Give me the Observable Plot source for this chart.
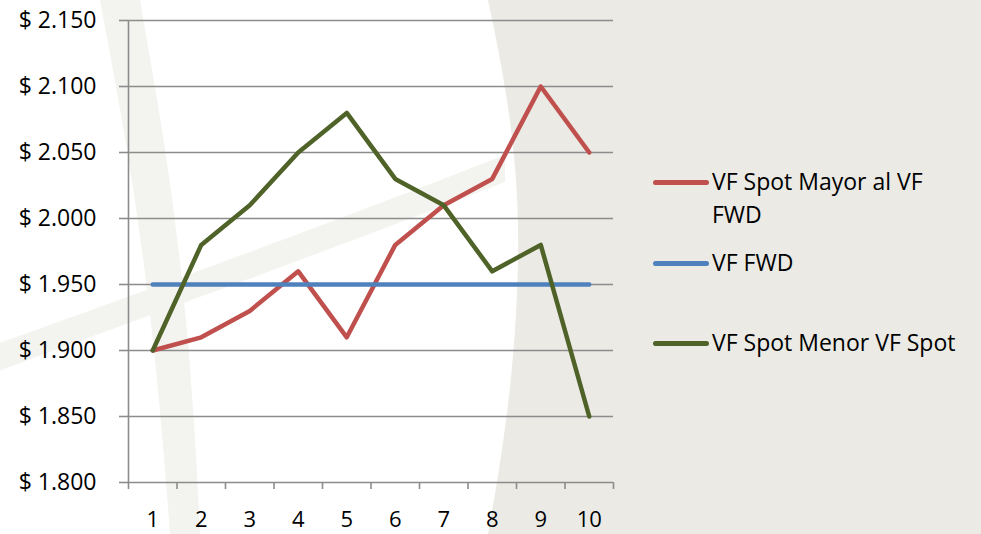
<!DOCTYPE html>
<html>
<head>
<meta charset="utf-8">
<script src="https://cdn.jsdelivr.net/npm/d3@7"></script>
<script src="https://cdn.jsdelivr.net/npm/@observablehq/plot@0.6"></script>
<style>
  html, body { margin: 0; padding: 0; background: #EBEAE4; }
  #wrap { position: relative; width: 981px; height: 534px; overflow: hidden; font-family: "Open Sans", sans-serif; }
  #bg, #chart { position: absolute; left: 0; top: 0; }
  #chart svg { background: transparent; }
  .leg { position: absolute; font-size: 23px; color: #000; line-height: 33px; white-space: nowrap; }
  .sw { position: absolute; height: 5px; border-radius: 3px; width: 56px; }
</style>
</head>
<body>
<div id="wrap">
  <svg id="bg" width="981" height="534">
    <rect width="981" height="534" fill="#EBEAE4"></rect>
    <path d="M0,0 L488,0 C505,80 520,160 518,260 C516,360 505,440 488,534 L0,534 Z" fill="#FFFFFF"></path>
    <path d="M-20,350 C120,300 300,235 505,155 L505,182 C300,262 120,325 -20,378 Z" fill="#F3F3EF"></path>
    <path d="M100,0 C122,120 150,250 170,534 L200,534 C188,250 160,120 140,0 Z" fill="#F3F3EF"></path>
  </svg>
  <div id="chart"></div>
  <div class="sw" style="left:653px; top:180px; background:#C0504D"></div>
  <div class="leg" style="left:712px; top:165px;">VF Spot Mayor al VF<br>FWD</div>
  <div class="sw" style="left:653px; top:261px; background:#4F81BD"></div>
  <div class="leg" style="left:712px; top:246px;">VF FWD</div>
  <div class="sw" style="left:653px; top:341px; background:#4F6228"></div>
  <div class="leg" style="left:712px; top:326px;">VF Spot Menor VF Spot</div>
</div>
<script>
const categories = [1, 2, 3, 4, 5, 6, 7, 8, 9, 10];
const seriesNames = ["VF Spot Mayor al VF FWD", "VF FWD", "VF Spot Menor VF Spot"];
const spotMayor = [1900, 1910, 1930, 1960, 1910, 1980, 2010, 2030, 2100, 2050];
const fwd = [1950, 1950, 1950, 1950, 1950, 1950, 1950, 1950, 1950, 1950];
const spotMenor = [1900, 1980, 2010, 2050, 2080, 2030, 2010, 1960, 1980, 1850];
const yTicks = [1800, 1850, 1900, 1950, 2000, 2050, 2100, 2150];
const colors = ["#C0504D", "#4F81BD", "#4F6228"];

const seriesValues = [spotMayor, fwd, spotMenor];
const data = seriesNames.flatMap((s, i) => categories.map((c, j) => ({series: s, x: c, y: seriesValues[i][j]})));
const bounds = d3.range(categories.length + 1).map(i => categories[0] - 0.5 + i);

const locale = d3.formatLocale({decimal: ",", thousands: ".", grouping: [3], currency: ["$ ", ""]});
const fmt = locale.format("$,");

const axisColor = "#8C8C8C";
const chart = Plot.plot({
  width: 981,
  height: 534,
  marginLeft: 128,
  marginRight: 368,
  marginTop: 20,
  marginBottom: 52,
  style: {background: "transparent", fontFamily: "Open Sans, sans-serif"},
  x: {type: "linear", domain: [bounds[0], bounds[bounds.length - 1]]},
  y: {domain: [1800, 2150]},
  color: {domain: seriesNames, range: colors},
  marks: [
    Plot.gridY(yTicks, {stroke: axisColor, strokeOpacity: 1, strokeWidth: 1.6}),
    Plot.axisY(yTicks, {tickSize: 9, tickPadding: 23, tickFormat: fmt, stroke: axisColor, strokeWidth: 1.6, fill: "#000", fontSize: 23, label: null}),
    Plot.ruleX([bounds[0]], {stroke: axisColor, strokeWidth: 1.6}),
    Plot.axisX(bounds, {tickSize: 7, tickFormat: () => "", stroke: axisColor, strokeWidth: 1.6, label: null}),
    Plot.axisX(categories, {tickSize: 0, tickPadding: 29, fill: "#000", fontSize: 22, label: null}),
    Plot.line(data, {x: "x", y: "y", z: "series", stroke: "series", strokeWidth: 4.5, strokeLinecap: "round", strokeLinejoin: "round"})
  ]
});
document.getElementById("chart").appendChild(chart);
</script>
</body>
</html>
